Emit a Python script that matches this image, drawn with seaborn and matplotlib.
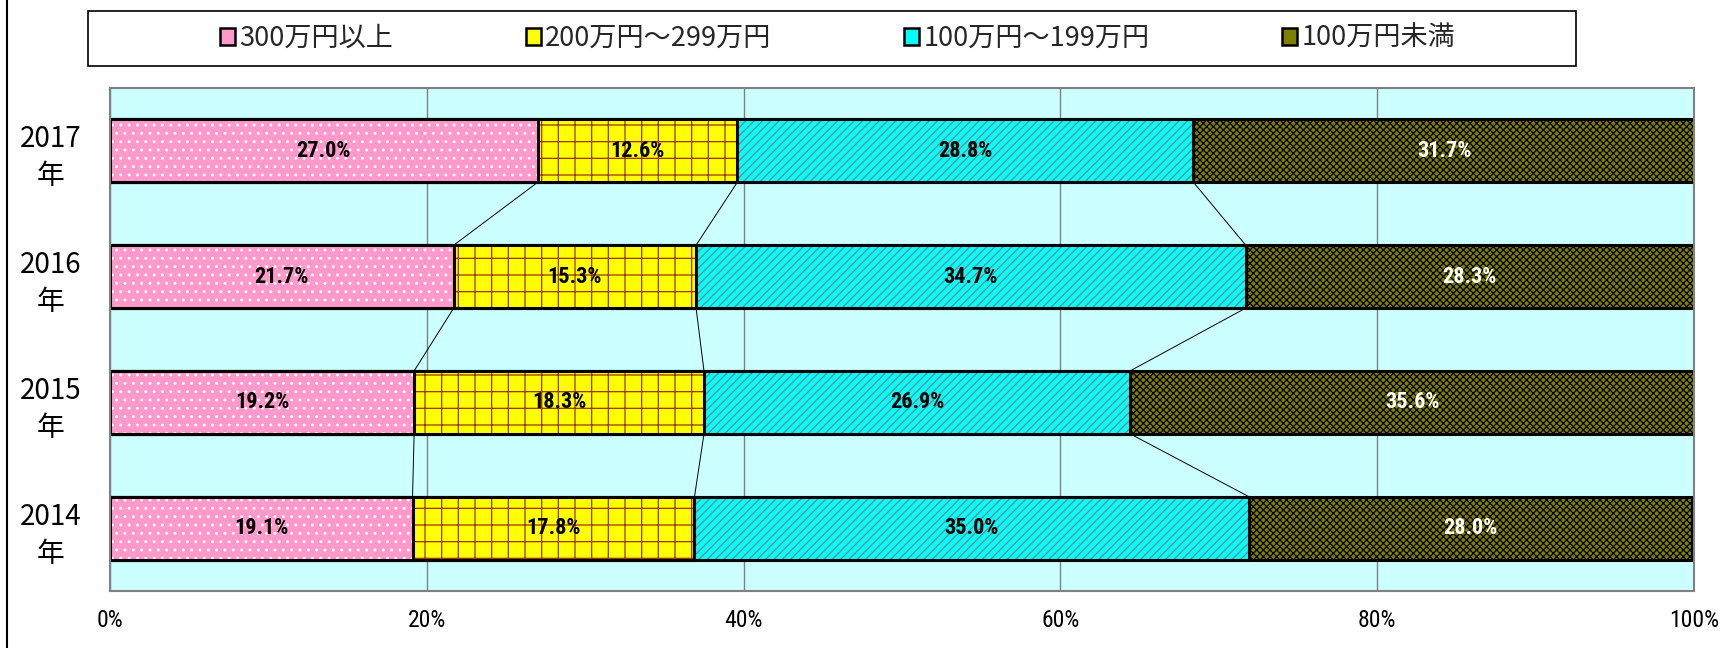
import matplotlib
matplotlib.use('Agg')
import matplotlib.pyplot as plt
import matplotlib.font_manager as fm
import seaborn as sns
import pandas as pd
import numpy as np
from matplotlib.patches import Rectangle, Patch
from matplotlib.lines import Line2D

# ---------------- data ----------------
years = ['2017年', '2016年', '2015年', '2014年']
year_labels = ['2017\n年', '2016\n年', '2015\n年', '2014\n年']
categories = ['300万円以上', '200万円～299万円', '100万円～199万円', '100万円未満']
v300 = [27.0, 21.7, 19.2, 19.1]
v200 = [12.6, 15.3, 18.3, 17.8]
v100 = [28.8, 34.7, 26.9, 35.0]
vlow = [31.7, 28.3, 35.6, 28.0]
x_ticks = [0, 20, 40, 60, 80, 100]
x_tick_labels = ['0%', '20%', '40%', '60%', '80%', '100%']

face_colors = ['#FF99CC', '#FFFF00', '#00FFFF', '#808000']
hatch_colors = ['#FFFFFF', '#993300', '#808080', '#000000']
hatches = ['..', '+', '////', 'xxxxx']
label_colors = ['black', 'black', 'black', 'white']

# ---------------- style ----------------
sns.set_theme(style='white')
plt.rcParams['font.family'] = ['Noto Sans CJK JP', 'DejaVu Sans']
plt.rcParams['hatch.linewidth'] = 0.9

available = {f.name for f in fm.fontManager.ttflist}
narrow_candidates = ['Liberation Sans Narrow', 'DejaVu Sans Condensed', 'Roboto Condensed',
                     'Liberation Sans']
narrow = [f for f in narrow_candidates if f in available] + ['DejaVu Sans']
is_narrow = narrow[0] != 'Liberation Sans'

W, H = 1734, 648
fig = plt.figure(figsize=(W / 100, H / 100), dpi=100)
fig.patch.set_facecolor('white')
L, R, T, B = 110, 1694, 88, 591
ax = fig.add_axes([L / W, 1 - B / H, (R - L) / W, (B - T) / H])
ax.set_facecolor('#CCFFFF')

series = [v300, v200, v100, vlow]
cum = np.cumsum(np.array(series), axis=0)

for i in reversed(range(len(series))):
    d = pd.DataFrame({'year': years, 'cum': cum[i]})
    # face
    n0 = len(ax.patches)
    sns.barplot(data=d, x='cum', y='year', order=years, orient='y', width=0.5,
                color=face_colors[i], saturation=1, ax=ax, errorbar=None)
    for p in ax.patches[n0:]:
        p.set_facecolor(face_colors[i]); p.set_edgecolor('none'); p.set_linewidth(0)
        p.set_zorder(2)
    # hatch
    n0 = len(ax.patches)
    sns.barplot(data=d, x='cum', y='year', order=years, orient='y', width=0.5,
                color=face_colors[i], saturation=1, ax=ax, errorbar=None)
    for p in ax.patches[n0:]:
        p.set_facecolor('none'); p.set_edgecolor(hatch_colors[i]); p.set_linewidth(0)
        p.set_hatch(hatches[i]); p.set_zorder(2)
    # outline
    n0 = len(ax.patches)
    sns.barplot(data=d, x='cum', y='year', order=years, orient='y', width=0.5,
                color=face_colors[i], saturation=1, ax=ax, errorbar=None)
    for p in ax.patches[n0:]:
        p.set_facecolor('none'); p.set_edgecolor('black'); p.set_linewidth(2.2)
        p.set_zorder(2)

# value labels
lab_size = 16 if is_narrow else 14
for i, vals in enumerate(series):
    for j, v in enumerate(vals):
        ax.text(cum[i][j] - v / 2, j, f'{v:.1f}%', ha='center', va='center',
                fontsize=lab_size, fontweight='bold', family=narrow,
                color=label_colors[i], zorder=5)

# connecting series lines
for i in range(len(series) - 1):
    for j in range(len(years) - 1):
        ax.plot([cum[i][j], cum[i][j + 1]], [j + 0.25, j + 1 - 0.25],
                color='black', lw=0.7, zorder=3)

ax.set_xlim(0, 100)
ax.set_ylim(len(years) - 0.5, -0.5)
ax.set_xticks(x_ticks)
ax.set_xticklabels(x_tick_labels, family=narrow, fontsize=17 if is_narrow else 15.5)
ax.set_yticks(range(len(years)))
ax.set_yticklabels(year_labels, fontsize=20, ha='center', linespacing=1.3)
ax.tick_params(axis='x', length=0, pad=13, colors='black')
ax.tick_params(axis='y', length=0, pad=43, colors='black')
ax.set_xlabel('')
ax.set_ylabel('')
ax.set_axisbelow(True)
ax.grid(axis='x', color='#808080', lw=1.0)
ax.grid(axis='y', visible=False)
for s in ax.spines.values():
    s.set_color('#808080'); s.set_linewidth(1.5); s.set_visible(True)

# legend box
fig.add_artist(Rectangle((88 / W, 1 - 66 / H), (1576 - 88) / W, (66 - 11) / H,
                         transform=fig.transFigure, facecolor='white',
                         edgecolor='black', lw=1.2))
handles = [Patch(facecolor=face_colors[k], edgecolor='black', lw=1.8) for k in range(4)]
fig.legend(handles, categories, loc='center', ncol=4, mode='expand', frameon=False,
           bbox_to_anchor=(220 / W, 1 - 66 / H, (1455 - 220) / W, (66 - 11) / H),
           bbox_transform=fig.transFigure, fontsize=19.5, handlelength=0.55,
           handleheight=0.55, handletextpad=0.15, borderpad=0, borderaxespad=0)

# chart area left border
fig.add_artist(Line2D([7 / W, 7 / W], [0, 1], transform=fig.transFigure,
                      color='black', lw=1.5))

fig.savefig('out.png', dpi=100)
